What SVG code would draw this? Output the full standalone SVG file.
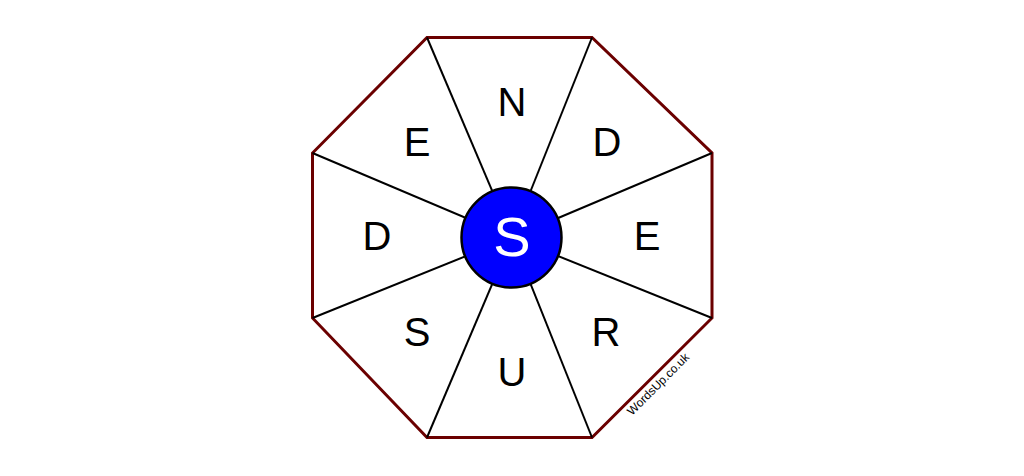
<svg xmlns="http://www.w3.org/2000/svg" width="1024" height="476" viewBox="0 0 1024 476">
<style>
.spoke{stroke:#000;stroke-width:2;fill:none}
.lt{font-family:"Liberation Sans",Arial,sans-serif;font-size:40px;fill:#000;text-anchor:middle}
</style>
<rect width="1024" height="476" fill="#fff"/>
<g id="octagon">
<polygon points="427,37.5 592,37.5 712,153 712,318 592,437.5 427,437.5 312.5,318 312.5,153" fill="#fff" stroke="#6b0000" stroke-width="3"/>
</g>
<g id="connectors">
<line class="spoke" x1="427" y1="37.5" x2="512" y2="237.5"/>
<line class="spoke" x1="592" y1="37.5" x2="512" y2="237.5"/>
<line class="spoke" x1="712" y1="153" x2="512" y2="237.5"/>
<line class="spoke" x1="712" y1="318" x2="512" y2="237.5"/>
<line class="spoke" x1="592" y1="437.5" x2="512" y2="237.5"/>
<line class="spoke" x1="427" y1="437.5" x2="512" y2="237.5"/>
<line class="spoke" x1="312.5" y1="318" x2="512" y2="237.5"/>
<line class="spoke" x1="312.5" y1="153" x2="512" y2="237.5"/>
</g>
<g id="center">
<circle cx="511.5" cy="237.5" r="50" fill="#0000ff" stroke="#000" stroke-width="2.5"/>
<text x="512" y="256" font-family="Liberation Sans,Arial,sans-serif" font-size="56" fill="#fff" text-anchor="middle">S</text>
</g>
<g id="l-n"><text class="lt" x="512" y="116">N</text></g>
<g id="l-ne"><text class="lt" x="607" y="156">D</text></g>
<g id="l-e"><text class="lt" x="647" y="250">E</text></g>
<g id="l-se"><text class="lt" x="606" y="346">R</text></g>
<g id="l-s"><text class="lt" x="512" y="386">U</text></g>
<g id="l-sw"><text class="lt" x="417" y="346">S</text></g>
<g id="l-w"><text class="lt" x="377" y="250">D</text></g>
<g id="l-nw"><text class="lt" x="417" y="156">E</text></g>
<g id="brand"><text x="661" y="387" font-family="Liberation Sans,Arial,sans-serif" font-size="12" fill="#000" text-anchor="middle" transform="rotate(-45 661 387)">WordsUp.co.uk</text></g>
</svg>
